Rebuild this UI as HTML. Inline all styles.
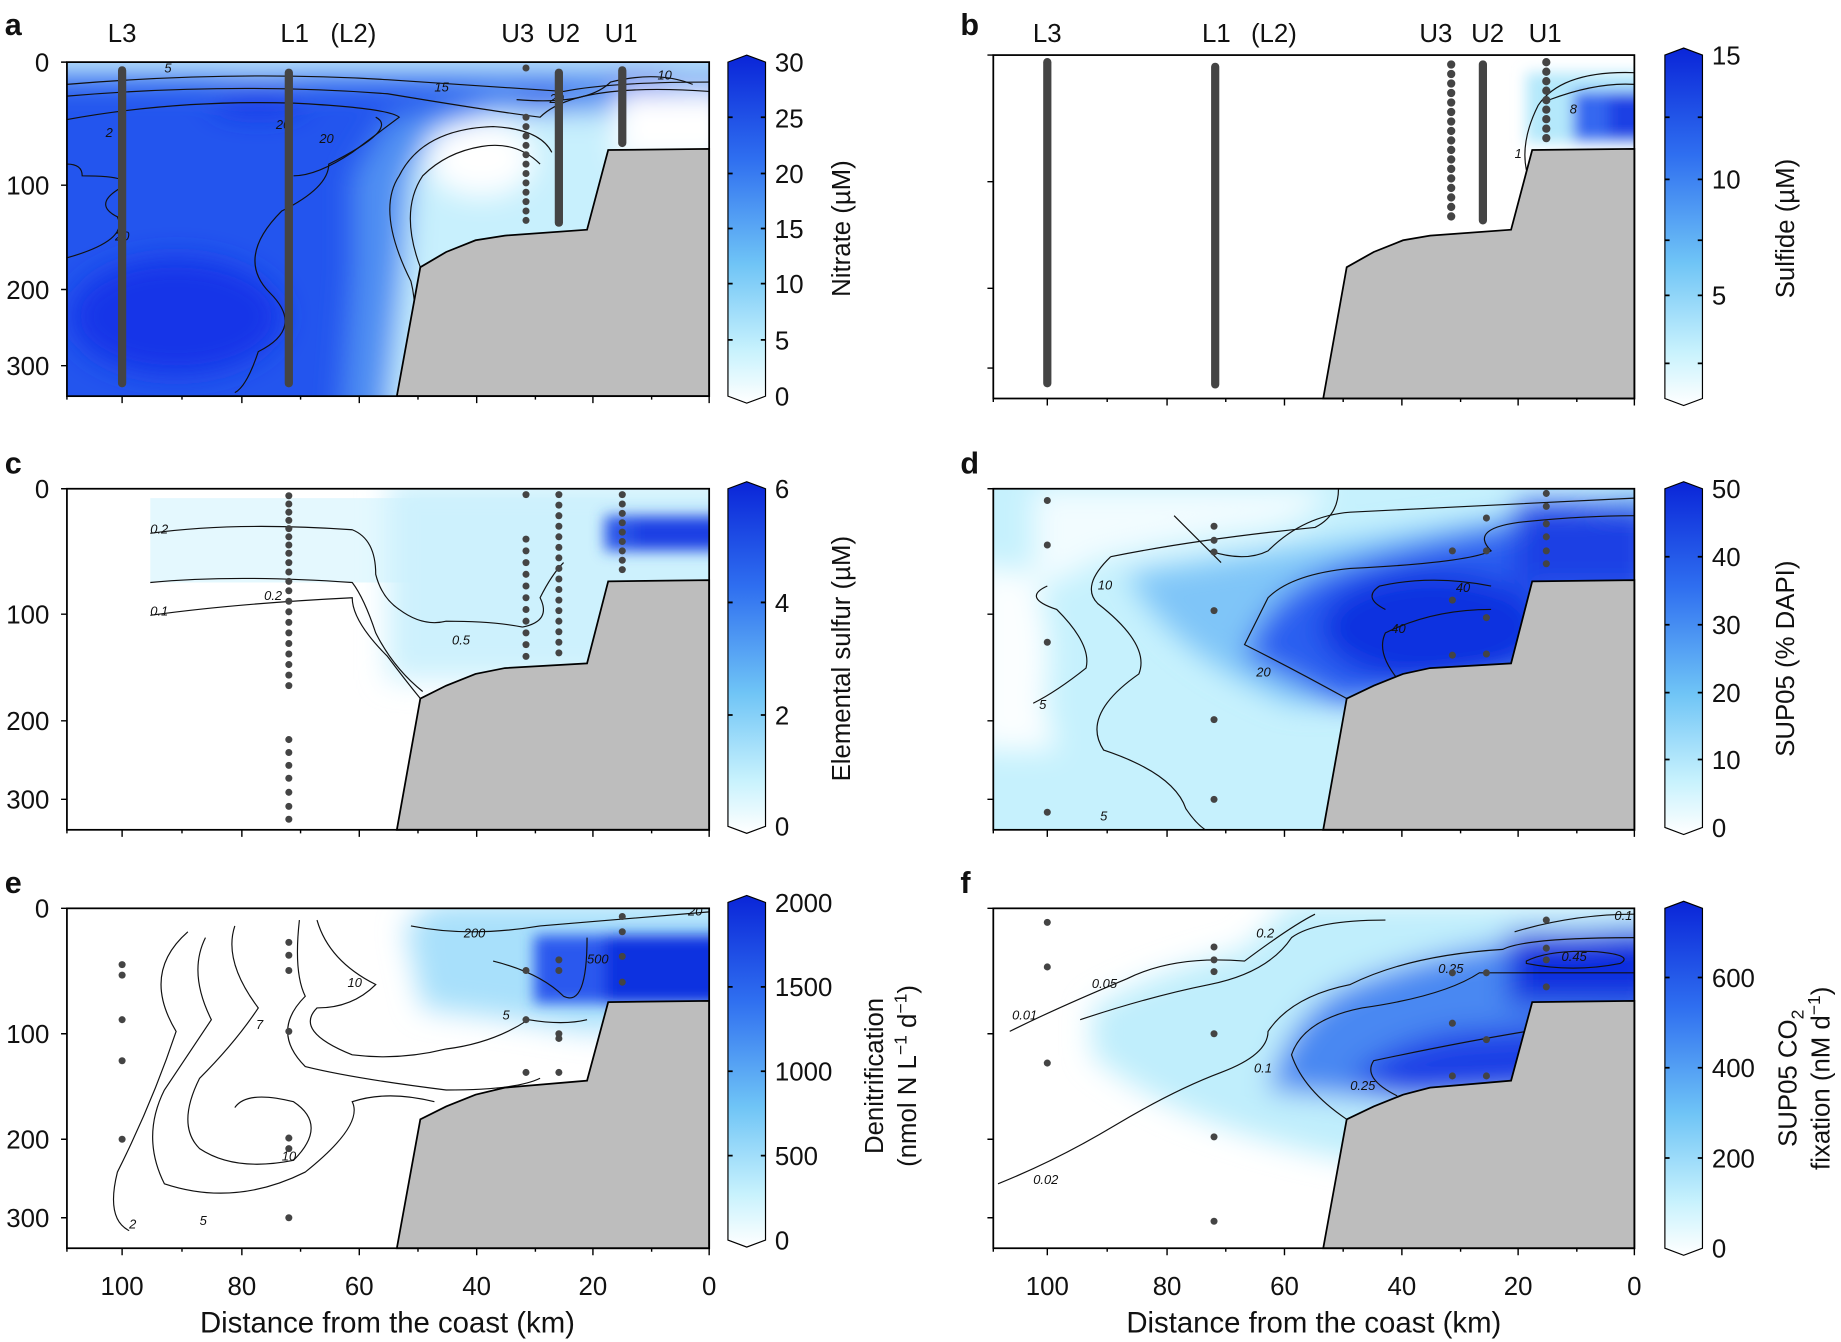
<!DOCTYPE html>
<html><head><meta charset="utf-8"><style>
html,body{margin:0;padding:0;background:#fff}
svg{display:block}
text{font-family:"Liberation Sans",sans-serif;fill:#111}
</style></head><body>
<svg width="1841" height="1342" viewBox="0 0 1568 1145" preserveAspectRatio="none" xmlns="http://www.w3.org/2000/svg">
<defs>
<linearGradient id="cb" x1="0" y1="0" x2="0" y2="1">
<stop offset="0" stop-color="#0a25d8"/><stop offset="0.3" stop-color="#2f6ff0"/><stop offset="0.6" stop-color="#6fc4f6"/><stop offset="0.85" stop-color="#c8f2fd"/><stop offset="1" stop-color="#ffffff"/>
</linearGradient>
<filter id="bl" x="-50%" y="-50%" width="200%" height="200%"><feGaussianBlur stdDeviation="12"/></filter>
<filter id="bs" x="-50%" y="-50%" width="200%" height="200%"><feGaussianBlur stdDeviation="6"/></filter>
<clipPath id="ca"><rect x="57" y="53" width="547" height="285"/></clipPath>
<clipPath id="cbp"><rect x="846" y="47" width="546" height="293"/></clipPath>
<clipPath id="cc"><rect x="57" y="417" width="547" height="291"/></clipPath>
<clipPath id="cd"><rect x="846" y="417" width="546" height="291"/></clipPath>
<clipPath id="ce"><rect x="57" y="775" width="547" height="290"/></clipPath>
<clipPath id="cf"><rect x="846" y="775" width="546" height="290"/></clipPath>
</defs>

<!-- ===== Panel a ===== -->
<g clip-path="url(#ca)">
<rect x="57" y="53" width="547" height="285" fill="#2355ee"/>
<g filter="url(#bl)">
<rect x="20" y="30" width="620" height="28" fill="#c9f0fd"/>
<rect x="20" y="58" width="620" height="14" fill="#5b9cf3"/>
<path d="M290 360 L300 230 L300 150 L330 100 L420 80 L620 70 L620 360Z" fill="#4f8ff2"/>
<path d="M330 360 L345 220 L350 150 L370 110 L420 95 L520 95 L620 95 L620 360Z" fill="#c8f0fd"/>
<ellipse cx="410" cy="135" rx="45" ry="32" fill="#fff"/>
<rect x="525" y="78" width="100" height="60" fill="#fff"/>
<ellipse cx="545" cy="67" rx="28" ry="7" fill="#2a55ea"/>
<ellipse cx="462" cy="85" rx="22" ry="8" fill="#2a55e8"/>
<ellipse cx="150" cy="270" rx="90" ry="50" fill="#1436e8"/>
<ellipse cx="220" cy="85" rx="40" ry="12" fill="#1436e8"/>
</g>
<g fill="none" stroke="#111" stroke-width="1">
<path d="M57 72 Q200 60 330 68 Q430 75 480 78 Q520 70 604 70"/>
<path d="M57 82 Q200 70 330 80 Q420 95 460 100 Q490 70 604 78"/>
<path d="M57 102 Q150 85 250 88 Q330 92 340 100 Q320 115 300 130 Q270 150 250 150"/>
<path d="M57 140 Q70 140 70 150 Q120 150 100 162 Q80 175 100 185 Q110 205 57 220"/>
<path d="M200 335 Q210 330 220 300 Q260 280 230 250 Q200 220 240 180 Q280 160 280 140 Q340 110 320 100"/>
<path d="M340 338 Q360 280 350 240 Q320 180 340 150 Q360 110 420 108 Q460 110 470 130"/>
<path d="M358 228 Q340 180 360 150 Q380 130 410 125 Q440 120 460 140"/>
<path d="M440 85 Q500 90 520 70 Q560 60 590 72"/>
</g>
<g font-size="11" font-style="italic"><text x="140" y="62">5</text><text x="370" y="78">15</text><text x="560" y="68">10</text><text x="90" y="117">2</text><text x="235" y="110">20</text><text x="272" y="122">20</text><text x="98" y="205">20</text><text x="468" y="88">20</text></g>
</g>
<polygon points="338,338 358,228 380,215 405,205 430,201 500,196 518,128 604,127 604,338" fill="#bdbdbd" stroke="#000" stroke-width="1.5"/>
<rect x="57" y="53" width="547" height="285" fill="none" stroke="#000" stroke-width="1.5"/>
<g stroke="#444" stroke-width="7" stroke-linecap="round">
<line x1="104" y1="60" x2="104" y2="327"/><line x1="246" y1="62" x2="246" y2="327"/><line x1="476" y1="62" x2="476" y2="190"/><line x1="530" y1="60" x2="530" y2="122"/>
</g>
<g fill="#444"><circle cx="448" cy="58" r="3"/><circle cx="448" cy="100" r="3"/><circle cx="448" cy="108" r="3"/><circle cx="448" cy="116" r="3"/><circle cx="448" cy="124" r="3"/><circle cx="448" cy="132" r="3"/><circle cx="448" cy="140" r="3"/><circle cx="448" cy="148" r="3"/><circle cx="448" cy="156" r="3"/><circle cx="448" cy="164" r="3"/><circle cx="448" cy="172" r="3"/><circle cx="448" cy="180" r="3"/><circle cx="448" cy="188" r="3"/></g>

<!-- ===== Panel b ===== -->
<g clip-path="url(#cbp)">
<g filter="url(#bs)">
<rect x="1300" y="62" width="140" height="60" fill="#b4e8fb"/>
<rect x="1340" y="78" width="100" height="42" fill="#3468f0"/>
<rect x="1370" y="82" width="60" height="36" fill="#1a40e4"/>
</g>
<path d="M1300 145 Q1295 120 1310 90 Q1330 60 1392 62" fill="none" stroke="#111"/>
<path d="M1320 85 Q1360 70 1392 72" fill="none" stroke="#111"/>
<text x="1337" y="97" font-size="11" font-style="italic">8</text><text x="1290" y="135" font-size="11" font-style="italic">1</text>
</g>
<polygon points="1127,340 1147,228 1170,215 1195,205 1218,201 1287,196 1305,128 1392,127 1392,340" fill="#bdbdbd" stroke="#000" stroke-width="1.5"/>
<rect x="846" y="47" width="546" height="293" fill="none" stroke="#000" stroke-width="1.5"/>
<g stroke="#444" stroke-width="7" stroke-linecap="round">
<line x1="892" y1="53" x2="892" y2="327"/><line x1="1035" y1="57" x2="1035" y2="328"/><line x1="1263" y1="55" x2="1263" y2="188"/><line x1="1236" y1="55" x2="1236" y2="188" stroke-dasharray="0.1 8"/><line x1="1317" y1="53" x2="1317" y2="122" stroke-dasharray="0.1 8"/>
</g>

<!-- ===== Panel c ===== -->
<g clip-path="url(#cc)">
<rect x="128" y="425" width="476" height="72" fill="#e4f8fe"/>
<g filter="url(#bl)">
<rect x="330" y="410" width="300" height="170" fill="#cdf1fd"/>
</g>
<g filter="url(#bs)"><rect x="515" y="440" width="120" height="30" fill="#2a55e8"/><rect x="540" y="443" width="90" height="24" fill="#1a3fe4"/></g>
<g fill="none" stroke="#111" stroke-width="1">
<path d="M128 455 Q200 445 300 452 Q320 460 320 490 Q325 510 340 520 Q360 535 380 530 Q420 530 445 535"/>
<path d="M128 497 Q200 490 300 497 Q310 510 320 540 Q335 570 360 590"/>
<path d="M128 525 Q200 515 300 510 Q300 530 330 560 Q345 580 358 596"/>
<path d="M445 535 Q470 530 460 510 Q470 490 480 480"/>
</g>
<g font-size="11" font-style="italic"><text x="128" y="455">0.2</text><text x="225" y="512">0.2</text><text x="128" y="525">0.1</text><text x="385" y="550">0.5</text></g>
</g>
<polygon points="338,708 358,596 380,585 405,575 430,570 500,566 518,496 604,495 604,708" fill="#bdbdbd" stroke="#000" stroke-width="1.5"/>
<rect x="57" y="417" width="547" height="291" fill="none" stroke="#000" stroke-width="1.5"/>
<g fill="#444">
<circle cx="246" cy="423" r="3"/><circle cx="246" cy="430" r="3"/><circle cx="246" cy="437" r="3"/><circle cx="246" cy="444" r="3"/><circle cx="246" cy="451" r="3"/><circle cx="246" cy="458" r="3"/><circle cx="246" cy="465" r="3"/><circle cx="246" cy="472" r="3"/><circle cx="246" cy="480" r="3"/><circle cx="246" cy="488" r="3"/><circle cx="246" cy="496" r="3"/><circle cx="246" cy="504" r="3"/><circle cx="246" cy="513" r="3"/><circle cx="246" cy="522" r="3"/><circle cx="246" cy="531" r="3"/><circle cx="246" cy="540" r="3"/><circle cx="246" cy="549" r="3"/><circle cx="246" cy="558" r="3"/><circle cx="246" cy="567" r="3"/><circle cx="246" cy="576" r="3"/><circle cx="246" cy="585" r="3"/><circle cx="246" cy="631" r="3"/><circle cx="246" cy="642" r="3"/><circle cx="246" cy="653" r="3"/><circle cx="246" cy="664" r="3"/><circle cx="246" cy="676" r="3"/><circle cx="246" cy="688" r="3"/><circle cx="246" cy="699" r="3"/>
<circle cx="448" cy="422" r="3"/><circle cx="448" cy="460" r="3"/><circle cx="448" cy="470" r="3"/><circle cx="448" cy="480" r="3"/><circle cx="448" cy="490" r="3"/><circle cx="448" cy="500" r="3"/><circle cx="448" cy="510" r="3"/><circle cx="448" cy="520" r="3"/><circle cx="448" cy="530" r="3"/><circle cx="448" cy="540" r="3"/><circle cx="448" cy="550" r="3"/><circle cx="448" cy="560" r="3"/>
<circle cx="476" cy="422" r="3"/><circle cx="476" cy="431" r="3"/><circle cx="476" cy="440" r="3"/><circle cx="476" cy="449" r="3"/><circle cx="476" cy="458" r="3"/><circle cx="476" cy="467" r="3"/><circle cx="476" cy="476" r="3"/><circle cx="476" cy="485" r="3"/><circle cx="476" cy="494" r="3"/><circle cx="476" cy="503" r="3"/><circle cx="476" cy="512" r="3"/><circle cx="476" cy="521" r="3"/><circle cx="476" cy="530" r="3"/><circle cx="476" cy="539" r="3"/><circle cx="476" cy="548" r="3"/><circle cx="476" cy="557" r="3"/>
<circle cx="530" cy="422" r="3"/><circle cx="530" cy="430" r="3"/><circle cx="530" cy="438" r="3"/><circle cx="530" cy="446" r="3"/><circle cx="530" cy="454" r="3"/><circle cx="530" cy="462" r="3"/><circle cx="530" cy="470" r="3"/><circle cx="530" cy="478" r="3"/><circle cx="530" cy="486" r="3"/>
</g>

<!-- ===== Panel d ===== -->
<g clip-path="url(#cd)">
<rect x="846" y="417" width="546" height="291" fill="#c6f1fd"/>
<g filter="url(#bl)">
<path d="M880 417 L1130 417 Q1120 450 1050 455 Q960 470 930 480 Q900 500 880 500Z" fill="#f2fcff"/>
<path d="M830 480 L880 490 Q900 540 890 600 L900 640 L830 640Z" fill="#fbfeff"/>
<path d="M960 490 Q1100 470 1410 420 L1410 600 L1100 600 Q1000 560 960 490Z" fill="#7fc5f8"/>
<path d="M1060 560 Q1080 500 1150 480 Q1250 450 1410 430 L1410 520 L1300 580 L1140 600Z" fill="#2a5ef0"/>
<ellipse cx="1220" cy="535" rx="95" ry="48" fill="#1133e0"/>
<rect x="1290" y="430" width="120" height="70" fill="#1a40e4"/>
</g>
<g fill="none" stroke="#111" stroke-width="1">
<path d="M1140 417 Q1140 440 1120 450 Q1020 460 946 475"/>
<path d="M892 500 Q870 510 900 520 Q930 550 925 570 Q900 590 880 600"/>
<path d="M946 475 Q920 500 935 515 Q980 550 970 575 Q920 610 940 640 Q1000 660 1010 690 Q1020 705 1030 710"/>
<path d="M1030 470 Q1060 480 1080 470 Q1110 440 1150 437 Q1300 430 1392 425"/>
<path d="M1000 440 Q1030 470 1040 480"/>
<path d="M1147 596 Q1100 570 1060 550 Q1070 530 1080 510 Q1100 490 1150 485 Q1250 480 1270 470 Q1250 450 1300 445 Q1350 440 1392 440"/>
<path d="M1200 590 Q1170 560 1180 540 Q1220 520 1270 520"/>
<path d="M1180 520 Q1160 510 1175 500 Q1220 490 1270 500"/>
</g>
<g font-size="11" font-style="italic"><text x="935" y="503">10</text><text x="885" y="605">5</text><text x="937" y="700">5</text><text x="1070" y="577">20</text><text x="1185" y="540">40</text><text x="1240" y="505">40</text></g>
</g>
<polygon points="1127,708 1147,596 1170,585 1195,575 1218,570 1287,566 1305,496 1392,495 1392,708" fill="#bdbdbd" stroke="#000" stroke-width="1.5"/>
<rect x="846" y="417" width="546" height="291" fill="none" stroke="#000" stroke-width="1.5"/>
<g fill="#444">
<circle cx="892" cy="427" r="3"/><circle cx="892" cy="465" r="3"/><circle cx="892" cy="548" r="3"/><circle cx="892" cy="693" r="3"/>
<circle cx="1034" cy="449" r="3"/><circle cx="1034" cy="461" r="3"/><circle cx="1034" cy="471" r="3"/><circle cx="1034" cy="521" r="3"/><circle cx="1034" cy="614" r="3"/><circle cx="1034" cy="682" r="3"/>
<circle cx="1266" cy="442" r="3"/><circle cx="1237" cy="470" r="3"/><circle cx="1266" cy="470" r="3"/><circle cx="1237" cy="512" r="3"/><circle cx="1266" cy="527" r="3"/><circle cx="1237" cy="559" r="3"/><circle cx="1266" cy="558" r="3"/>
<circle cx="1317" cy="421" r="3"/><circle cx="1317" cy="432" r="3"/><circle cx="1317" cy="447" r="3"/><circle cx="1317" cy="458" r="3"/><circle cx="1317" cy="470" r="3"/><circle cx="1317" cy="481" r="3"/>
</g>

<!-- ===== Panel e ===== -->
<g clip-path="url(#ce)">
<g filter="url(#bl)">
<path d="M345 790 L370 770 L640 770 L640 870 L500 880 L440 870 L360 860Z" fill="#a8e0fb"/>
</g>
<g filter="url(#bs)"><rect x="455" y="798" width="200" height="58" fill="#2a58ee"/><rect x="515" y="798" width="140" height="58" fill="#0f32e0"/></g>
<g fill="none" stroke="#111" stroke-width="1">
<path d="M350 790 Q400 800 460 790 Q520 785 604 778"/>
<path d="M420 820 Q460 830 480 850 Q500 860 500 800"/>
<path d="M270 785 Q280 820 320 840 Q300 860 270 860 Q250 880 300 900 Q340 905 380 895 Q420 890 450 870 Q480 875 500 870"/>
<path d="M255 785 Q250 830 260 850 Q230 880 260 910 Q300 920 380 930 Q440 930 460 920"/>
<path d="M200 790 Q190 820 220 860 Q200 890 170 920 Q150 960 170 980 Q200 1000 250 990 Q280 960 250 940 Q210 930 200 945"/>
<path d="M175 800 Q160 830 180 870 Q160 900 140 930 Q120 970 140 1010 Q200 1030 260 1000 Q310 960 300 940 Q330 930 370 940"/>
<path d="M160 795 Q120 830 150 880 Q130 940 100 1000 Q90 1040 110 1050"/>
</g>
<g font-size="11" font-style="italic"><text x="395" y="800">200</text><text x="500" y="822">500</text><text x="586" y="781">20</text><text x="296" y="842">10</text><text x="218" y="878">7</text><text x="428" y="870">5</text><text x="240" y="990">10</text><text x="170" y="1045">5</text><text x="110" y="1048">2</text></g>
</g>
<polygon points="338,1065 358,955 380,944 405,934 430,928 500,922 518,855 604,854 604,1065" fill="#bdbdbd" stroke="#000" stroke-width="1.5"/>
<rect x="57" y="775" width="547" height="290" fill="none" stroke="#000" stroke-width="1.5"/>
<g fill="#444">
<circle cx="104" cy="823" r="3"/><circle cx="104" cy="832" r="3"/><circle cx="104" cy="870" r="3"/><circle cx="104" cy="905" r="3"/><circle cx="104" cy="972" r="3"/>
<circle cx="246" cy="804" r="3"/><circle cx="246" cy="815" r="3"/><circle cx="246" cy="828" r="3"/><circle cx="246" cy="880" r="3"/><circle cx="246" cy="971" r="3"/><circle cx="246" cy="980" r="3"/><circle cx="246" cy="1039" r="3"/>
<circle cx="448" cy="828" r="3"/><circle cx="476" cy="828" r="3"/><circle cx="476" cy="819" r="3"/><circle cx="448" cy="870" r="3"/><circle cx="476" cy="882" r="3"/><circle cx="476" cy="886" r="3"/><circle cx="448" cy="915" r="3"/><circle cx="476" cy="915" r="3"/>
<circle cx="530" cy="782" r="3"/><circle cx="530" cy="795" r="3"/><circle cx="530" cy="816" r="3"/><circle cx="530" cy="838" r="3"/>
</g>

<!-- ===== Panel f ===== -->
<g clip-path="url(#cf)">
<g filter="url(#bl)">
<path d="M930 860 Q980 830 1060 810 Q1080 790 1100 770 L1410 770 L1410 1000 L1150 990 Q1000 960 930 900Z" fill="#c0eefc"/>
<path d="M1080 930 Q1100 860 1150 840 Q1250 800 1410 790 L1410 930 L1200 940Z" fill="#4a88f2"/>
<path d="M1150 920 Q1180 890 1240 880 L1410 870 L1410 930 L1200 935Z" fill="#1a40e6"/>
<rect x="1285" y="795" width="130" height="62" fill="#0a2edf"/>
</g>
<g fill="none" stroke="#111" stroke-width="1">
<path d="M860 880 Q900 860 960 835 Q1000 815 1060 820 Q1100 790 1120 780"/>
<path d="M920 870 Q980 850 1030 840 Q1080 830 1100 800 Q1120 785 1180 785"/>
<path d="M850 1010 Q900 990 950 960 Q1000 930 1040 915 Q1080 900 1080 880 Q1100 850 1150 840 Q1200 815 1280 810 Q1300 800 1392 800"/>
<path d="M1147 955 Q1110 930 1100 900 Q1110 870 1160 860 Q1230 850 1260 830 Q1300 830 1392 830"/>
<path d="M1190 935 Q1160 920 1170 905 Q1240 890 1300 880"/>
<path d="M1300 820 Q1320 810 1360 812 Q1392 815 1380 822 Q1340 830 1300 822Z"/>
<path d="M1290 795 Q1340 780 1392 780"/>
</g>
<g font-size="11" font-style="italic"><text x="862" y="870">0.01</text><text x="930" y="843">0.05</text><text x="1070" y="800">0.2</text><text x="1225" y="830">0.25</text><text x="1330" y="820">0.45</text><text x="1375" y="785">0.1</text><text x="1068" y="915">0.1</text><text x="1150" y="930">0.25</text><text x="880" y="1010">0.02</text></g>
</g>
<polygon points="1127,1065 1147,955 1170,944 1195,934 1218,928 1287,922 1305,855 1392,854 1392,1065" fill="#bdbdbd" stroke="#000" stroke-width="1.5"/>
<rect x="846" y="775" width="546" height="290" fill="none" stroke="#000" stroke-width="1.5"/>
<g fill="#444">
<circle cx="892" cy="787" r="3"/><circle cx="892" cy="825" r="3"/><circle cx="892" cy="907" r="3"/>
<circle cx="1034" cy="808" r="3"/><circle cx="1034" cy="819" r="3"/><circle cx="1034" cy="829" r="3"/><circle cx="1034" cy="882" r="3"/><circle cx="1034" cy="970" r="3"/><circle cx="1034" cy="1042" r="3"/>
<circle cx="1237" cy="830" r="3"/><circle cx="1266" cy="830" r="3"/><circle cx="1237" cy="873" r="3"/><circle cx="1266" cy="887" r="3"/><circle cx="1237" cy="918" r="3"/><circle cx="1266" cy="918" r="3"/>
<circle cx="1317" cy="785" r="3"/><circle cx="1317" cy="809" r="3"/><circle cx="1317" cy="819" r="3"/><circle cx="1317" cy="842" r="3"/>
</g>

<!-- ===== Axes ticks ===== -->
<g stroke="#000" stroke-width="1.2">
<path d="M57 53h-5M57 158h-5M57 247h-5M57 312h-5M57 417h-5M57 524h-5M57 615h-5M57 682h-5M57 775h-5M57 882h-5M57 972h-5M57 1039h-5"/>
<path d="M846 47h-5M846 155h-5M846 246h-5M846 314h-5M846 417h-5M846 524h-5M846 615h-5M846 682h-5M846 775h-5M846 882h-5M846 972h-5M846 1039h-5"/>
<path d="M104 338v6M206 338v6M306 338v6M406 338v6M505 338v6M604 338v6M155 338v3M256 338v3M356 338v3M456 338v3M555 338v3M57 338v3"/>
<path d="M104 708v6M206 708v6M306 708v6M406 708v6M505 708v6M604 708v6M155 708v3M256 708v3M356 708v3M456 708v3M555 708v3M57 708v3"/>
<path d="M104 1065v6M206 1065v6M306 1065v6M406 1065v6M505 1065v6M604 1065v6M155 1065v3M256 1065v3M356 1065v3M456 1065v3M555 1065v3M57 1065v3"/>
<path d="M892 340v6M994 340v6M1094 340v6M1194 340v6M1293 340v6M1392 340v6M943 340v3M1044 340v3M1144 340v3M1244 340v3M1343 340v3M846 340v3"/>
<path d="M892 708v6M994 708v6M1094 708v6M1194 708v6M1293 708v6M1392 708v6M943 708v3M1044 708v3M1144 708v3M1244 708v3M1343 708v3M846 708v3"/>
<path d="M892 1065v6M994 1065v6M1094 1065v6M1194 1065v6M1293 1065v6M1392 1065v6M943 1065v3M1044 1065v3M1144 1065v3M1244 1065v3M1343 1065v3M846 1065v3"/>
</g>
<g font-size="22" text-anchor="end">
<text x="42" y="61">0</text><text x="42" y="166">100</text><text x="42" y="255">200</text><text x="42" y="320">300</text>
<text x="42" y="425">0</text><text x="42" y="532">100</text><text x="42" y="623">200</text><text x="42" y="690">300</text>
<text x="42" y="783">0</text><text x="42" y="890">100</text><text x="42" y="980">200</text><text x="42" y="1047">300</text>
</g>
<g font-size="22" text-anchor="middle">
<text x="104" y="1105">100</text><text x="206" y="1105">80</text><text x="306" y="1105">60</text><text x="406" y="1105">40</text><text x="505" y="1105">20</text><text x="604" y="1105">0</text>
<text x="892" y="1105">100</text><text x="994" y="1105">80</text><text x="1094" y="1105">60</text><text x="1194" y="1105">40</text><text x="1293" y="1105">20</text><text x="1392" y="1105">0</text>
<text x="330" y="1137" font-size="25">Distance from the coast (km)</text>
<text x="1119" y="1137" font-size="25">Distance from the coast (km)</text>
<text x="104" y="36">L3</text><text x="251" y="36">L1</text><text x="301" y="36">(L2)</text><text x="441" y="36">U3</text><text x="480" y="36">U2</text><text x="529" y="36">U1</text>
<text x="892" y="36">L3</text><text x="1036" y="36">L1</text><text x="1085" y="36">(L2)</text><text x="1223" y="36">U3</text><text x="1267" y="36">U2</text><text x="1316" y="36">U1</text>
</g>
<g font-size="26" font-weight="bold">
<text x="4" y="30">a</text><text x="818" y="30">b</text><text x="4" y="404">c</text><text x="818" y="404">d</text><text x="4" y="762">e</text><text x="818" y="762">f</text>
</g>

<!-- ===== Colorbars ===== -->
<g stroke="#000" stroke-width="1">
<path d="M620 53 L636 47 L652 53 L652 338 L636 344 L620 338Z" fill="url(#cb)"/>
<path d="M1418 47 L1434 41 L1450 47 L1450 340 L1434 346 L1418 340Z" fill="url(#cb)"/>
<path d="M620 417 L636 411 L652 417 L652 705 L636 711 L620 705Z" fill="url(#cb)"/>
<path d="M1418 417 L1434 411 L1450 417 L1450 706 L1434 712 L1418 706Z" fill="url(#cb)"/>
<path d="M620 770 L636 764 L652 770 L652 1058 L636 1064 L620 1058Z" fill="url(#cb)"/>
<path d="M1418 775 L1434 769 L1450 775 L1450 1065 L1434 1071 L1418 1065Z" fill="url(#cb)"/>
</g>
<g stroke="#000" stroke-width="1.5">
<path d="M620 100h4M648 100h4M620 148h4M648 148h4M620 195h4M648 195h4M620 242h4M648 242h4M620 290h4M648 290h4"/>
<path d="M1418 100h4M1446 100h4M1418 153h4M1446 153h4M1418 205h4M1446 205h4M1418 252h4M1446 252h4M1418 310h4M1446 310h4"/>
<path d="M620 514h4M648 514h4M620 610h4M648 610h4"/>
<path d="M1418 475h4M1446 475h4M1418 533h4M1446 533h4M1418 591h4M1446 591h4M1418 648h4M1446 648h4"/>
<path d="M620 842h4M648 842h4M620 914h4M648 914h4M620 986h4M648 986h4"/>
<path d="M1418 834h4M1446 834h4M1418 911h4M1446 911h4M1418 988h4M1446 988h4"/>
</g>
<g font-size="22">
<text x="660" y="61">30</text><text x="660" y="109">25</text><text x="660" y="156">20</text><text x="660" y="203">15</text><text x="660" y="250">10</text><text x="660" y="298">5</text><text x="660" y="346">0</text>
<text x="1458" y="55">15</text><text x="1458" y="161">10</text><text x="1458" y="260">5</text>
<text x="660" y="425">6</text><text x="660" y="522">4</text><text x="660" y="618">2</text><text x="660" y="713">0</text>
<text x="1458" y="425">50</text><text x="1458" y="483">40</text><text x="1458" y="541">30</text><text x="1458" y="599">20</text><text x="1458" y="656">10</text><text x="1458" y="714">0</text>
<text x="660" y="778">2000</text><text x="660" y="850">1500</text><text x="660" y="922">1000</text><text x="660" y="994">500</text><text x="660" y="1066">0</text>
<text x="1458" y="842">600</text><text x="1458" y="919">400</text><text x="1458" y="996">200</text><text x="1458" y="1073">0</text>
</g>
<g font-size="22" text-anchor="middle">
<text transform="translate(724 195) rotate(-90)">Nitrate (µM)</text>
<text transform="translate(1528 195) rotate(-90)">Sulfide (µM)</text>
<text transform="translate(724 562) rotate(-90)">Elemental sulfur (µM)</text>
<text transform="translate(1528 562) rotate(-90)">SUP05 (% DAPI)</text>
<text transform="translate(752 918) rotate(-90)">Denitrification</text>
<text transform="translate(780 918) rotate(-90)">(nmol N L<tspan dy="-8" font-size="15">−1</tspan><tspan dy="8"> d</tspan><tspan dy="-8" font-size="15">−1</tspan><tspan dy="8">)</tspan></text>
<text transform="translate(1530 920) rotate(-90)">SUP05 CO<tspan dy="6" font-size="15">2</tspan></text>
<text transform="translate(1558 920) rotate(-90)">fixation (nM d<tspan dy="-8" font-size="15">−1</tspan><tspan dy="8">)</tspan></text>
</g>
</svg>
</body></html>
